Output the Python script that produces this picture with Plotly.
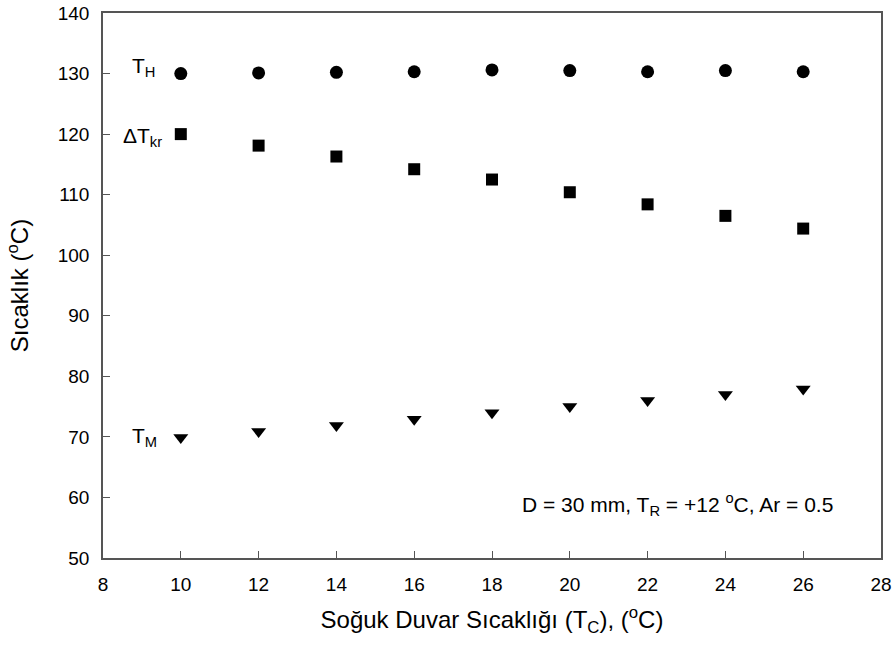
import plotly.graph_objects as go

x_tc = [10, 12, 14, 16, 18, 20, 22, 24, 26]
t_h = [130.0, 130.1, 130.2, 130.3, 130.6, 130.5, 130.3, 130.5, 130.3]
dt_kr = [120.0, 118.1, 116.3, 114.2, 112.5, 110.4, 108.4, 106.5, 104.4]
t_m = [69.9, 70.9, 71.9, 72.9, 74.0, 75.0, 76.0, 77.0, 77.9]

FONT = "Liberation Sans, Arial, sans-serif"

fig = go.Figure()
fig.add_trace(go.Scatter(x=x_tc, y=t_h, mode="markers", name="T_H",
                         marker=dict(symbol="circle", size=13, color="black", line=dict(width=0))))
fig.add_trace(go.Scatter(x=x_tc, y=dt_kr, mode="markers", name="dT_kr",
                         marker=dict(symbol="square", size=12, color="black", line=dict(width=0))))
fig.add_trace(go.Scatter(x=x_tc, y=t_m, mode="markers", name="T_M",
                         marker=dict(symbol="triangle-down", size=13, color="black", line=dict(width=0))))

ann_font = dict(family=FONT, size=21, color="black")
fig.add_annotation(x=8.7, y=131.1, text="T<sub>H</sub>", showarrow=False,
                   xanchor="left", yanchor="middle", font=ann_font)
fig.add_annotation(x=8.45, y=119.6, text="\u0394T<sub>kr</sub>", showarrow=False,
                   xanchor="left", yanchor="middle", font=ann_font)
fig.add_annotation(x=8.7, y=69.9, text="T<sub>M</sub>", showarrow=False,
                   xanchor="left", yanchor="middle", font=ann_font)
fig.add_annotation(x=22.78, y=58.8, text="D = 30 mm, T<sub>R</sub> = +12 <sup>o</sup>C, Ar = 0.5",
                   showarrow=False, xanchor="center", yanchor="middle",
                   font=dict(family=FONT, size=21, color="black"))

axis_common = dict(showline=True, linecolor="#555", linewidth=1.5, mirror=True,
                   ticks="inside", ticklen=7, tickcolor="#555", showgrid=False,
                   zeroline=False, automargin=False, ticklabelstandoff=8,
                   ticklabeloverflow="allow",
                   tickfont=dict(family=FONT, size=19, color="black"))

fig.update_xaxes(range=[8, 28], dtick=2, tick0=8,
                 title=dict(text="So\u011fuk Duvar S\u0131cakl\u0131\u011f\u0131 (T<sub>C</sub>), (<sup>o</sup>C)",
                            font=dict(family=FONT, size=24, color="black"), standoff=18),
                 **axis_common)
fig.update_yaxes(range=[50, 140], dtick=10, tick0=50,
                 title=dict(text="S\u0131cakl\u0131k (<sup>o</sup>C)",
                            font=dict(family=FONT, size=24, color="black"), standoff=22),
                 **axis_common)

fig.update_layout(width=894, height=650, showlegend=False,
                  plot_bgcolor="white", paper_bgcolor="white",
                  margin=dict(l=103, r=13, t=13, b=92))

fig.write_html("out.html", config={"displayModeBar": False},
               post_script="document.body.style.margin='0px';document.body.style.overflow='hidden';")
